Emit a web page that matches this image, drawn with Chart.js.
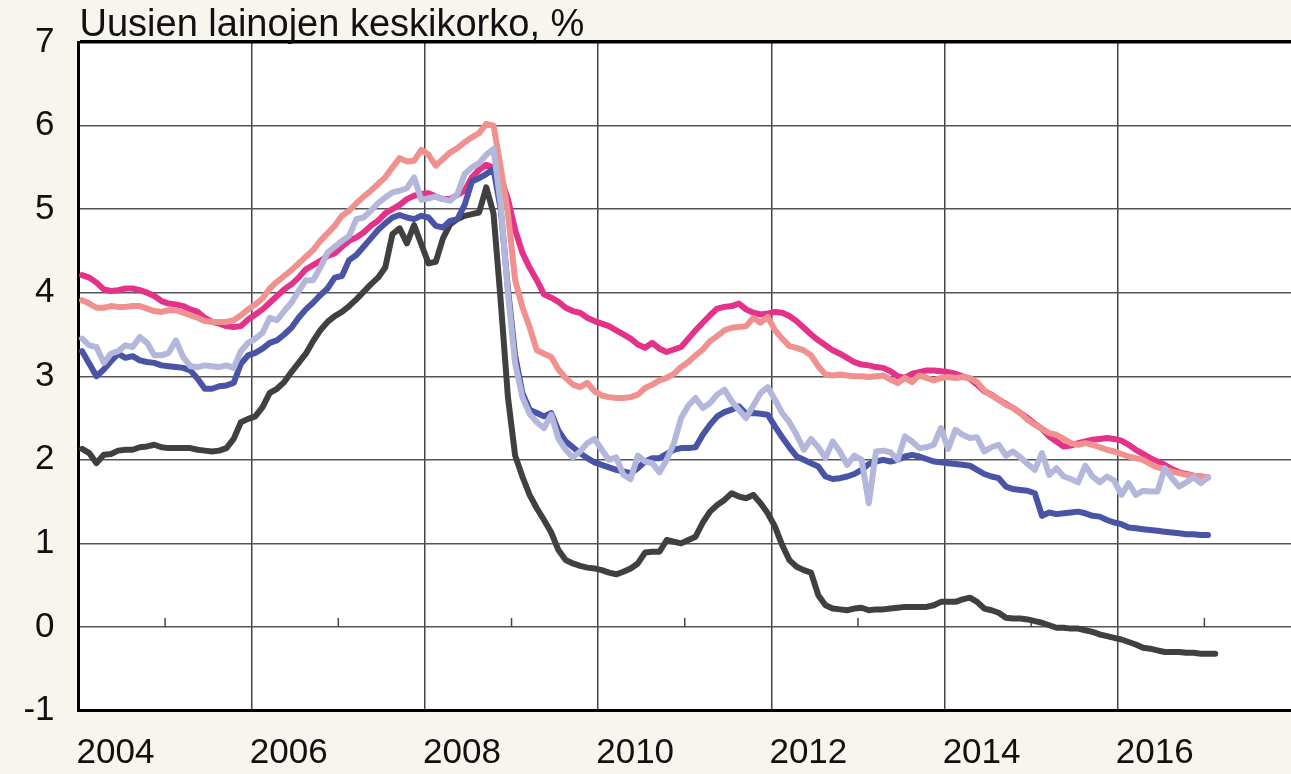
<!DOCTYPE html>
<html>
<head>
<meta charset="utf-8">
<script src="https://cdn.jsdelivr.net/npm/chart.js@4.4.1/dist/chart.umd.min.js"></script>
<style>
  html, body { margin: 0; padding: 0; background: #f8f4ee; }
  #wrap { width: 1291px; height: 774px; position: relative; }
  canvas { display: block; }
</style>
</head>
<body>
<div id="wrap"><canvas id="c" width="1291" height="774"></canvas></div>
<script>
// Monthly series, January 2004 onwards
const startYear = 2004;
const titleText = "Uusien lainojen keskikorko, %";
const yTicks = [-1, 0, 1, 2, 3, 4, 5, 6, 7];
const xLabelYears = [2004, 2006, 2008, 2010, 2012, 2014, 2016];

const seriesMagenta = [
  4.21,4.18,4.12,4.04,4.02,4.03,4.05,4.05,4.03,4.00,3.96,3.90,
  3.87,3.86,3.84,3.80,3.77,3.70,3.65,3.63,3.60,3.59,3.60,3.68,
  3.74,3.80,3.88,3.96,4.04,4.10,4.18,4.28,4.33,4.38,4.44,4.47,
  4.55,4.62,4.66,4.72,4.80,4.86,4.95,5.00,5.05,5.12,5.16,5.18,
  5.19,5.15,5.12,5.12,5.17,5.22,5.38,5.47,5.53,5.50,5.38,5.12,
  4.75,4.48,4.30,4.15,3.98,3.94,3.89,3.82,3.78,3.76,3.70,3.66,
  3.63,3.60,3.55,3.50,3.45,3.38,3.34,3.40,3.33,3.29,3.32,3.35,
  3.45,3.55,3.64,3.73,3.81,3.83,3.84,3.87,3.80,3.76,3.74,3.75,
  3.77,3.76,3.72,3.66,3.58,3.50,3.43,3.37,3.31,3.27,3.22,3.17,
  3.14,3.13,3.11,3.10,3.06,3.00,2.98,3.03,3.05,3.07,3.07,3.06,
  3.05,3.03,3.00,2.97,2.90,2.82,2.78,2.72,2.67,2.62,2.56,2.50,
  2.43,2.37,2.28,2.22,2.16,2.17,2.20,2.22,2.24,2.25,2.26,2.25,
  2.23,2.18,2.12,2.07,2.02,1.98,1.94,1.89,1.85,1.83,1.81,1.80,
  1.79
];
const seriesSalmon = [
  3.91,3.87,3.82,3.82,3.84,3.83,3.83,3.84,3.84,3.81,3.78,3.77,
  3.79,3.79,3.76,3.73,3.70,3.66,3.65,3.65,3.65,3.67,3.73,3.80,
  3.86,3.93,4.05,4.13,4.20,4.27,4.35,4.43,4.51,4.62,4.71,4.80,
  4.92,4.98,5.07,5.15,5.22,5.30,5.38,5.50,5.61,5.57,5.58,5.71,
  5.65,5.52,5.60,5.68,5.73,5.80,5.86,5.91,6.02,6.00,5.50,4.95,
  4.15,3.83,3.59,3.31,3.27,3.23,3.08,2.98,2.90,2.87,2.92,2.82,
  2.77,2.75,2.74,2.74,2.75,2.78,2.86,2.90,2.95,2.98,3.03,3.11,
  3.17,3.25,3.32,3.42,3.48,3.55,3.58,3.59,3.60,3.70,3.64,3.71,
  3.55,3.45,3.36,3.34,3.31,3.25,3.12,3.02,3.01,3.02,3.01,3.00,
  3.00,2.99,3.00,3.01,2.96,2.92,2.98,2.93,3.01,2.98,2.95,2.98,
  2.99,2.98,2.99,2.98,2.93,2.83,2.77,2.72,2.66,2.62,2.56,2.48,
  2.42,2.37,2.32,2.30,2.25,2.20,2.18,2.20,2.18,2.15,2.12,2.10,
  2.07,2.04,2.02,2.00,1.95,1.91,1.89,1.86,1.84,1.82,1.81,1.80,
  1.79
];
const seriesBlue = [
  3.30,3.15,3.00,3.08,3.18,3.27,3.22,3.24,3.19,3.17,3.16,3.13,
  3.12,3.11,3.10,3.07,2.97,2.85,2.85,2.88,2.89,2.92,3.15,3.25,
  3.28,3.33,3.40,3.43,3.50,3.58,3.70,3.80,3.88,3.97,4.05,4.18,
  4.20,4.39,4.45,4.55,4.65,4.75,4.83,4.90,4.93,4.90,4.88,4.92,
  4.90,4.80,4.78,4.86,4.88,5.05,5.33,5.37,5.42,5.48,5.00,4.05,
  3.25,2.80,2.60,2.56,2.52,2.56,2.35,2.22,2.15,2.08,2.02,1.97,
  1.94,1.91,1.88,1.86,1.84,1.90,1.98,2.02,2.02,2.07,2.12,2.14,
  2.14,2.15,2.30,2.42,2.52,2.57,2.60,2.64,2.55,2.56,2.55,2.54,
  2.40,2.27,2.15,2.04,2.00,1.96,1.92,1.80,1.77,1.78,1.80,1.83,
  1.88,1.95,1.98,2.00,1.98,2.00,2.04,2.06,2.04,2.01,1.98,1.97,
  1.96,1.95,1.94,1.93,1.88,1.83,1.80,1.78,1.68,1.65,1.64,1.63,
  1.60,1.33,1.37,1.35,1.36,1.37,1.38,1.36,1.33,1.32,1.28,1.25,
  1.23,1.19,1.18,1.17,1.16,1.15,1.14,1.13,1.12,1.11,1.11,1.10,
  1.10
];
const seriesLavender = [
  3.45,3.37,3.35,3.16,3.27,3.30,3.37,3.35,3.47,3.40,3.25,3.25,
  3.28,3.43,3.23,3.12,3.11,3.13,3.12,3.11,3.13,3.10,3.30,3.40,
  3.45,3.52,3.70,3.67,3.78,3.88,4.02,4.15,4.15,4.30,4.48,4.55,
  4.62,4.68,4.88,4.90,4.98,5.07,5.14,5.20,5.22,5.25,5.38,5.11,
  5.13,5.15,5.12,5.10,5.18,5.42,5.50,5.55,5.65,5.72,5.05,4.00,
  3.15,2.75,2.55,2.45,2.38,2.54,2.25,2.12,2.03,2.10,2.20,2.25,
  2.12,2.00,2.03,1.82,1.77,2.05,1.98,1.96,1.85,2.00,2.20,2.50,
  2.65,2.74,2.62,2.68,2.78,2.84,2.70,2.60,2.50,2.65,2.80,2.87,
  2.72,2.56,2.45,2.30,2.12,2.25,2.15,2.02,2.22,2.10,1.94,2.05,
  2.00,1.48,2.10,2.11,2.09,2.00,2.28,2.22,2.14,2.15,2.18,2.38,
  2.13,2.36,2.30,2.26,2.27,2.10,2.15,2.18,2.05,2.10,2.03,1.95,
  1.88,2.08,1.82,1.90,1.80,1.77,1.73,1.93,1.80,1.73,1.80,1.75,
  1.58,1.72,1.58,1.63,1.62,1.62,1.90,1.78,1.68,1.73,1.79,1.72,
  1.79
];
const seriesBlack = [
  2.13,2.08,1.96,2.06,2.07,2.11,2.12,2.12,2.15,2.16,2.18,2.15,
  2.14,2.14,2.14,2.14,2.12,2.11,2.10,2.11,2.14,2.25,2.45,2.49,
  2.52,2.63,2.80,2.85,2.93,3.05,3.16,3.27,3.42,3.55,3.65,3.72,
  3.77,3.84,3.92,4.01,4.10,4.18,4.30,4.70,4.77,4.59,4.81,4.58,
  4.35,4.37,4.65,4.82,4.88,4.92,4.94,4.96,5.26,4.95,3.90,2.75,
  2.05,1.80,1.58,1.42,1.28,1.13,0.92,0.80,0.76,0.73,0.71,0.70,
  0.68,0.65,0.63,0.66,0.70,0.76,0.89,0.90,0.90,1.04,1.02,1.00,
  1.04,1.08,1.25,1.38,1.46,1.52,1.60,1.56,1.54,1.58,1.48,1.36,
  1.20,0.98,0.80,0.72,0.68,0.65,0.38,0.26,0.22,0.21,0.20,0.22,
  0.23,0.20,0.21,0.21,0.22,0.23,0.24,0.24,0.24,0.24,0.26,0.30,
  0.30,0.30,0.33,0.35,0.30,0.22,0.20,0.17,0.11,0.10,0.10,0.09,
  0.07,0.05,0.02,-0.01,-0.01,-0.02,-0.02,-0.04,-0.06,-0.09,-0.11,-0.13,
  -0.15,-0.18,-0.21,-0.25,-0.26,-0.28,-0.30,-0.30,-0.30,-0.31,-0.31,-0.32,
  -0.32,-0.32
];

function toPoints(arr) {
  return arr.map((v, i) => ({ x: startYear + (i + 0.5) / 12, y: v }));
}

const FONT = '"Liberation Sans", Arial, sans-serif';

const bgPlugin = {
  id: 'bg',
  beforeDraw(chart) {
    const { ctx, chartArea: a } = chart;
    ctx.save();
    ctx.fillStyle = '#f8f4ee';
    ctx.fillRect(0, 0, chart.width, chart.height);
    ctx.fillStyle = '#ffffff';
    ctx.fillRect(a.left, a.top, chart.width - a.left, a.bottom - a.top);
    ctx.restore();
  },
  beforeDatasetsDraw(chart) {
    // small tick marks for odd years on the zero line
    const { ctx } = chart;
    const xs = chart.scales.x, ys = chart.scales.y;
    const y0 = ys.getPixelForValue(0);
    ctx.save();
    ctx.strokeStyle = '#444';
    ctx.lineWidth = 1.5;
    for (let yr = 2005; yr <= 2017; yr += 2) {
      const px = xs.getPixelForValue(yr);
      ctx.beginPath();
      ctx.moveTo(px, y0);
      ctx.lineTo(px, y0 - 9);
      ctx.stroke();
    }
    ctx.restore();
  },
  afterDraw(chart) {
    const { ctx, chartArea: a } = chart;
    ctx.save();
    ctx.fillStyle = '#111';
    ctx.font = '38px ' + FONT;
    ctx.textBaseline = 'alphabetic';
    ctx.textAlign = 'left';
    ctx.fillText(titleText, a.left + 1, a.top - 6);
    ctx.restore();
  }
};

const lineDs = (data, color) => ({
  data: toPoints(data),
  borderColor: color,
  borderWidth: 6,
  pointRadius: 0,
  tension: 0,
  borderJoinStyle: 'round',
  borderCapStyle: 'round',
  fill: false
});

new Chart(document.getElementById('c'), {
  type: 'line',
  data: {
    datasets: [
      lineDs(seriesLavender, '#b4b7dc'),
      lineDs(seriesBlue, '#4a54a6'),
      lineDs(seriesBlack, '#404040'),
      lineDs(seriesSalmon, '#f0908f'),
      lineDs(seriesMagenta, '#e4318a')
    ]
  },
  options: {
    responsive: false,
    animation: false,
    events: [],
    layout: { padding: { top: 42, right: 0, bottom: 0, left: 0 } },
    plugins: { legend: { display: false }, tooltip: { enabled: false }, title: { display: false } },
    scales: {
      x: {
        type: 'linear',
        min: 2004,
        max: 2018,
        afterBuildTicks(scale) {
          const t = [];
          for (let y = 2004; y <= 2018; y++) t.push({ value: y });
          scale.ticks = t;
        },
        afterFit(scale) {
          scale.height = 63.5;
          scale.paddingLeft = 0;
          scale.paddingRight = 0;
        },
        border: { display: true, color: '#000', width: 3 },
        grid: {
          drawTicks: false,
          color: (c) => (c.tick && c.tick.value % 2 === 0 && c.tick.value > 2004 && c.tick.value < 2018) ? '#444' : 'rgba(0,0,0,0)',
          lineWidth: 1.5
        },
        ticks: {
          autoSkip: false,
          maxRotation: 0,
          labelOffset: 37,
          padding: 22,
          color: '#111',
          font: { family: FONT, size: 35 },
          callback: (v) => xLabelYears.includes(v) ? String(v) : ''
        }
      },
      y: {
        min: -1,
        max: 7,
        afterBuildTicks(scale) { scale.ticks = yTicks.map(v => ({ value: v })); },
        afterFit(scale) { scale.width = 78.5; scale.paddingTop = 0; scale.paddingBottom = 0; },
        border: { display: true, color: '#000', width: 3 },
        grid: {
          drawTicks: false,
          color: (c) => c.tick && c.tick.value === 7 ? '#000' : '#555',
          lineWidth: (c) => c.tick && c.tick.value === 7 ? 3.5 : 1.5
        },
        ticks: {
          padding: 24,
          color: '#111',
          font: { family: FONT, size: 35 }
        }
      }
    }
  },
  plugins: [bgPlugin]
});
</script>
</body>
</html>
